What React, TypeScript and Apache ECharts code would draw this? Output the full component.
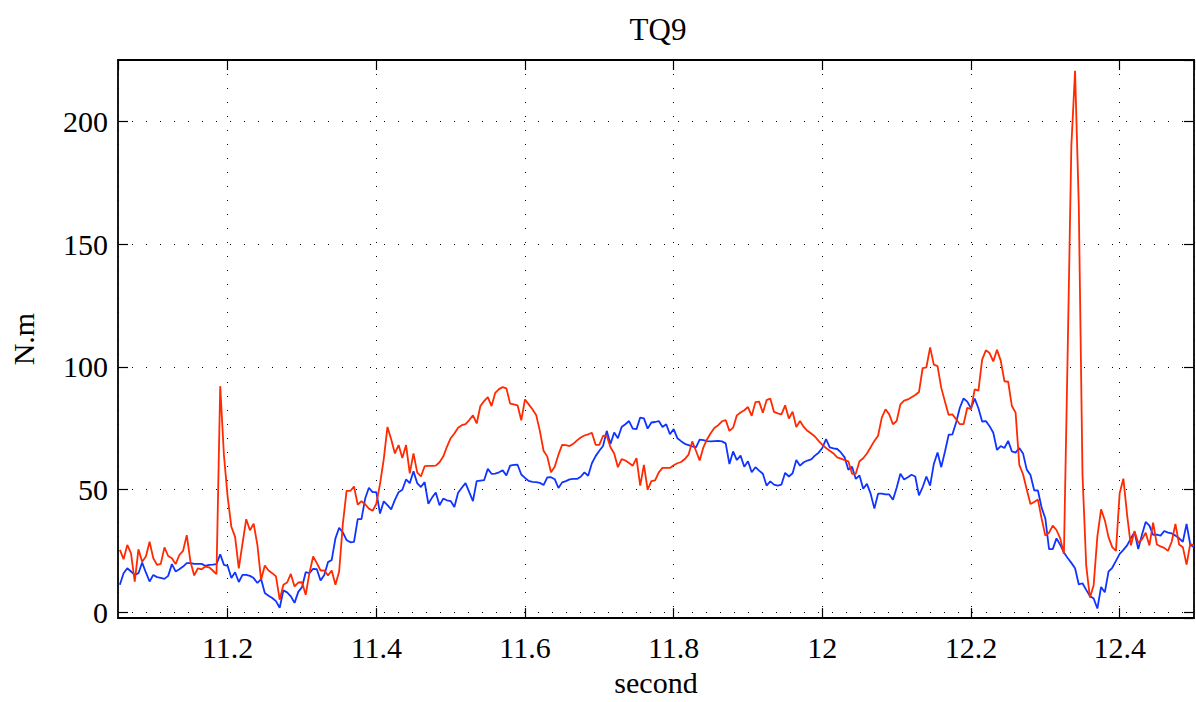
import React, { useEffect, useRef } from "react";
import * as echarts from "echarts";

const TITLE = "TQ9";
const X_NAME = "second";
const Y_NAME = "N.m";

// sampling grid of the recorded signals
const T0 = 11.055;
const DT = 0.005;

const X_MIN = 11.0525;
const X_MAX = 12.5;
const Y_MIN = -2.4;
const Y_MAX = 225;

const redValues: number[] = [
  25.4, 21.6, 27.4, 24, 12.5, 25.6, 20.6, 22.7, 28.7, 22,
  19.3, 19.7, 26.4, 22.9, 22, 19.6, 23.3, 25, 31.4, 20.6,
  15, 17.9, 17.5, 18.6, 18.3, 17, 15.5, 92.1, 64, 47,
  34.8, 30.7, 17.9, 28, 37.9, 33.4, 36.1, 27.4, 13.2, 19,
  17, 15.9, 14.6, 5.1, 11.2, 12.1, 15.6, 10.5, 12.1, 12.2,
  7.1, 15.9, 22.7, 20, 17, 17, 15, 17, 11.2, 16.6,
  36.1, 49.4, 49.4, 51.2, 43.8, 45.2, 44, 42.2, 41.3, 44.2,
  52.3, 62.4, 75.5, 70.5, 64.7, 68.1, 62.8, 68.1, 56.6, 64.7,
  57, 55.3, 59.5, 59.6, 59.6, 59.7, 61.1, 63.4, 67.4, 70.9,
  72.8, 75.2, 76.2, 76.6, 78.3, 80.2, 76.9, 84, 86, 87.6,
  84, 89.4, 90.9, 91.7, 91.2, 85, 84.7, 84.3, 78.2, 86.7,
  84.7, 82.7, 80.4, 73.9, 65.8, 63.4, 57, 59.3, 64.2, 68.2,
  68.1, 67.7, 68.6, 70, 71.2, 72, 72.5, 73.1, 68.2, 68.2,
  71.9, 71.9, 67.2, 64.7, 59.1, 62.4, 61.8, 60.8, 59.7, 62.8,
  51.6, 60, 49.9, 53.4, 53.7, 57, 58.8, 58.8, 58.8, 59.9,
  60.7, 61.2, 62.4, 64.2, 69.6, 65.8, 61.8, 67.2, 70.5, 73,
  75.2, 76.2, 77.8, 78.3, 73.9, 75.2, 80.2, 81.4, 82.3, 83.6,
  80, 85.6, 85.8, 81.3, 86.4, 87.1, 81.6, 81, 80.6, 84.3,
  78.9, 81.7, 75.5, 77.9, 75.5, 73.9, 72.8, 71.6, 69.8, 68.2,
  66.9, 65.8, 64.7, 63.1, 62.6, 62, 61.5, 56.4, 56.4, 61.5,
  62.7, 64.7, 67.2, 69.8, 71.9, 79.3, 82.7, 80.6, 76.6, 77.9,
  84.7, 86.2, 86.7, 87.6, 88.5, 89.7, 99.5, 99.8, 107.9, 100.9,
  100.3, 91.4, 85.8, 80.4, 80.6, 78.6, 76.6, 76.6, 83.3, 82.7,
  90.8, 90.3, 102.9, 106.7, 105.6, 102.2, 106.9, 102.5, 94.1, 93.9,
  84, 81.3, 60, 56.2, 50, 44.1, 44.9, 45.9, 38.2, 31.2,
  32.4, 35.3, 33.5, 30.1, 23.8, 105, 190, 220.6, 166, 56,
  19, 5.9, 11, 30.9, 41.9, 37.5, 30.6, 26.5, 25, 48.5,
  54.4, 39.7, 27.2, 33.1, 28.2, 29.7, 32.4, 27.2, 36.5, 27.6,
  26.8, 26.2, 25, 28.7, 36, 27.6, 26.5, 19.4, 27.9, 27.2,
];

const blueValues: number[] = [
  11.2, 15.9, 17.9, 16.6, 15.2, 15.9, 20.2, 16.2, 12.5, 15.2,
  14.3, 14, 13.6, 14.8, 19.6, 16.6, 17.5, 18.6, 20, 20,
  19.7, 19.7, 19.7, 18.9, 19.3, 19.4, 19.6, 23.6, 19.3, 18.9,
  13.9, 16.3, 12.3, 15.2, 15.2, 14.8, 13.9, 11.9, 13.5, 7.8,
  6.7, 5.8, 4.5, 1.8, 8.9, 8.1, 6.5, 3.8, 8.3, 10.2,
  16.3, 15.9, 17.7, 17.5, 12.9, 15.2, 20.4, 21.3, 30.1, 34.4,
  32.5, 29.4, 28.5, 28.7, 37.9, 37.9, 46.3, 50.7, 48.9, 48.9,
  40.2, 45.2, 43.6, 41.9, 45.8, 48.9, 49.9, 54.1, 52.6, 57.4,
  52.6, 51, 53, 44.2, 46.7, 48.8, 43.6, 46.3, 45.6, 45.3,
  42.9, 48.7, 50.7, 52.6, 48.9, 45.3, 53.4, 53.6, 53.8, 58.4,
  56.4, 56.5, 57, 57.8, 55.7, 59.7, 60, 60.1, 56.1, 54.7,
  53.5, 53.1, 53, 52.7, 51.8, 54.9, 55, 54.2, 50.6, 52.9,
  53.4, 54.1, 54.3, 54.3, 55.2, 57, 55.6, 60.7, 63.6, 65.8,
  67.7, 73.9, 68.5, 73.2, 70.9, 75.5, 76.6, 77.9, 74.8, 74.6,
  79.3, 79, 74.8, 77.3, 77.5, 77.9, 75.5, 76.6, 72.5, 74.6,
  70.9, 69.7, 68.6, 68.1, 67.6, 67.2, 70.3, 70.1, 69.7, 69.6,
  69.7, 69.8, 69.6, 68.8, 60.4, 65.5, 62, 63.8, 59.3, 61.5,
  57, 59.1, 57.7, 56.4, 51.6, 53.3, 52, 51.6, 52, 56.8,
  55.3, 56.6, 62, 59.7, 61.1, 61.8, 62.3, 63.8, 65, 66.9,
  70.5, 67.2, 66.8, 66.5, 65.1, 63.1, 58, 59.3, 54.3, 55.7,
  50.3, 52.3, 48.3, 42.2, 48.3, 48.3, 48, 48, 45.8, 50.7,
  56.4, 54.1, 55, 56, 55.3, 47.6, 51, 55.3, 51.6, 60.4,
  65.1, 59.1, 65.5, 72.3, 72.5, 77.3, 83.3, 87.1, 85.8, 83.1,
  87, 83.1, 77.7, 77.9, 75.8, 73.1, 66.1, 67.7, 66.9, 69.8,
  65.5, 65, 66.9, 64.7, 58.1, 55.9, 49.7, 49.6, 42.6, 38.2,
  25.7, 25.7, 30.1, 27.5, 24.3, 22.1, 20.1, 17.9, 11.3, 11.8,
  9.1, 6.6, 5.6, 1.5, 10.3, 8.1, 16.5, 18.1, 20.9, 23.8,
  25.4, 27.2, 30.1, 32.6, 25.7, 31.6, 36.8, 35.3, 31.5, 31.6,
  31.2, 33.1, 32.4, 32.1, 31.2, 30.1, 28.7, 36, 27.5, 26.5,
];

const FONT = "Liberation Serif";

function toPairs(vals: number[]): [number, number][] {
  return vals.map((v, i) => [Number((T0 + i * DT).toFixed(4)), v]);
}

export default function App() {
  const ref = useRef<HTMLDivElement>(null);

  useEffect(() => {
    if (!ref.current) return;
    const chart = echarts.init(ref.current, undefined, { renderer: "svg" });

    const tickStyle = { show: true, inside: true, length: 10, lineStyle: { color: "#000", width: 1.2 } };
    const axisLineStyle = { show: true, onZero: false, lineStyle: { color: "#000", width: 1.8 } };
    const gridDots = { show: true, lineStyle: { color: "#000", width: 1, type: [1, 13] as number[] } };

    chart.setOption({
      animation: false,
      backgroundColor: "#ffffff",
      title: {
        text: TITLE,
        left: 653,
        textAlign: "center",
        top: 9,
        textStyle: { fontFamily: FONT, fontSize: 31, fontWeight: "normal", color: "#000" },
      },
      grid: { left: 113, right: 2, top: 60, bottom: 80, containLabel: false },
      xAxis: [
        {
          type: "value",
          position: "bottom",
          min: X_MIN,
          max: X_MAX,
          splitNumber: 7,
          name: X_NAME,
          nameLocation: "middle",
          nameGap: 48,
          nameTextStyle: { fontFamily: FONT, fontSize: 30, color: "#000" },
          axisLine: axisLineStyle,
          axisTick: tickStyle,
          axisLabel: {
            showMinLabel: false,
            showMaxLabel: false,
            margin: 14,
            fontFamily: FONT,
            fontSize: 30,
            color: "#000",
          },
          splitLine: gridDots,
        },
        {
          type: "value",
          position: "top",
          min: X_MIN,
          max: X_MAX,
          splitNumber: 7,
          axisLine: axisLineStyle,
          axisTick: tickStyle,
          axisLabel: { show: false },
          splitLine: { show: false },
        },
      ],
      yAxis: [
        {
          type: "value",
          position: "left",
          min: Y_MIN,
          max: Y_MAX,
          splitNumber: 5,
          name: Y_NAME,
          nameLocation: "middle",
          nameRotate: 90,
          nameGap: 80,
          nameTextStyle: { fontFamily: FONT, fontSize: 30, color: "#000" },
          axisLine: axisLineStyle,
          axisTick: tickStyle,
          axisLabel: {
            showMinLabel: false,
            showMaxLabel: false,
            margin: 10,
            fontFamily: FONT,
            fontSize: 30,
            color: "#000",
          },
          splitLine: gridDots,
        },
        {
          type: "value",
          position: "right",
          min: Y_MIN,
          max: Y_MAX,
          splitNumber: 5,
          axisLine: axisLineStyle,
          axisTick: tickStyle,
          axisLabel: { show: false },
          splitLine: { show: false },
        },
      ],
      series: [
        {
          name: "blue",
          type: "line",
          xAxisIndex: 0,
          yAxisIndex: 0,
          data: toPairs(blueValues),
          showSymbol: false,
          symbol: "none",
          lineStyle: { color: "#1034ff", width: 1.8 },
          itemStyle: { color: "#1034ff" },
          z: 3,
        },
        {
          name: "red",
          type: "line",
          xAxisIndex: 0,
          yAxisIndex: 0,
          data: toPairs(redValues),
          showSymbol: false,
          symbol: "none",
          lineStyle: { color: "#ff2a00", width: 1.8 },
          itemStyle: { color: "#ff2a00" },
          z: 4,
        },
      ],
    });

    return () => chart.dispose();
  }, []);

  return (
    <div
      ref={ref}
      style={{ position: "fixed", left: 0, top: 0, width: 1196, height: 702, background: "#fff" }}
    />
  );
}
